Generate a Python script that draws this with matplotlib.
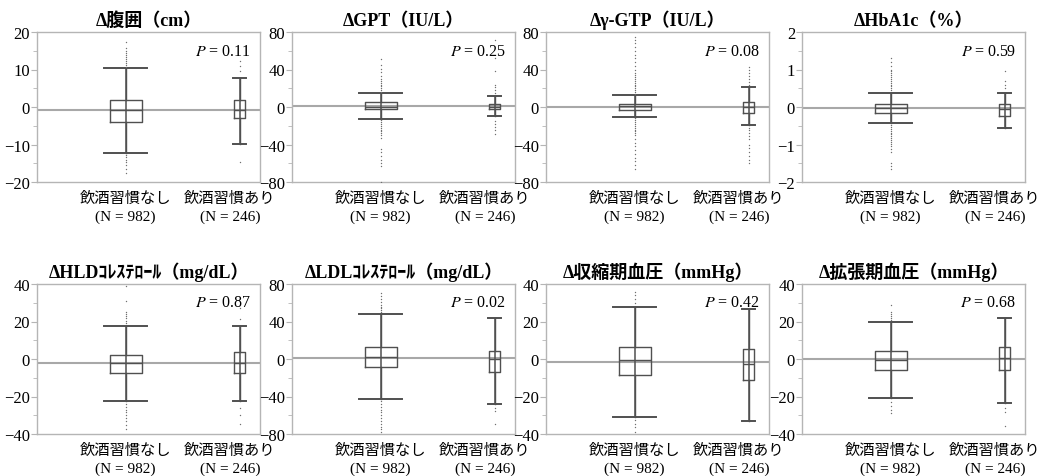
import numpy as np
import matplotlib
matplotlib.use("Agg")
import matplotlib.pyplot as plt
from matplotlib.ticker import MultipleLocator

plt.rcParams['font.family'] = ['Liberation Serif', 'Noto Sans CJK JP']
plt.rcParams['mathtext.fontset'] = 'stix'

# ---- data ----
titles = ["Δ腹囲（cm）", "ΔGPT（IU/L）", "Δγ-GTP（IU/L）", "ΔHbA1c（%）",
          "ΔHLDｺﾚｽﾃﾛｰﾙ（mg/dL）", "ΔLDLｺﾚｽﾃﾛｰﾙ（mg/dL）", "Δ収縮期血圧（mmHg）", "Δ拡張期血圧（mmHg）"]
p_values = ["0.11", "0.25", "0.08", "0.59", "0.87", "0.02", "0.42", "0.68"]
group_labels = ["飲酒習慣なし\n(N = 982)", "飲酒習慣あり\n(N = 246)"]
ylims = [20, 80, 80, 2, 40, 80, 40, 40]
major_step = [10, 40, 40, 1, 20, 40, 20, 20]
minor_step = [5, 20, 20, 0.5, 10, 20, 10, 10]
ref_line = [-0.9, 1.5, 0.0, -0.035, -2.3, 0.7, -1.4, 0.0]

# group 1 (no drinking habit)
g1_lo = [-12.2, -12.6, -10.8, -0.43, -22.6, -43.0, -30.7, -21.0]
g1_q1 = [-3.9, -2.5, -2.9, -0.15, -7.6, -9.0, -8.6, -5.9]
g1_med = [-0.9, 0.5, 0.7, -0.02, -2.3, 2.5, -0.5, -0.5]
g1_q3 = [2.0, 5.0, 3.6, 0.07, 2.3, 13.3, 6.3, 4.3]
g1_hi = [10.3, 15.0, 12.6, 0.38, 17.4, 48.0, 27.5, 19.5]
# group 2 (drinking habit)
g2_lo = [-9.8, -10.0, -19.0, -0.55, -22.6, -48.0, -32.8, -23.6]
g2_q1 = [-2.9, -2.5, -6.5, -0.24, -7.6, -14.3, -11.0, -5.9]
g2_med = [-0.9, 0.5, 0.0, -0.06, -2.3, 0.0, -2.5, 0.4]
g2_q3 = [2.0, 3.0, 5.0, 0.07, 3.6, 9.0, 5.4, 6.3]
g2_hi = [7.8, 12.0, 21.0, 0.38, 17.4, 44.0, 26.8, 21.8]

g1_fliers = [
    [10.8, 11.3, 11.8, 12.3, 12.8, 13.3, 13.8, 14.4, 15.0, 15.8, 17.3,
     -12.8, -13.4, -14.0, -14.7, -15.5, -16.5, -17.5],
    [16, 18, 20, 22, 24, 26, 28, 30, 33, 37, 41, 45, 51,
     -14, -16, -18, -20, -22, -24, -26, -28, -30, -33, -45, -48, -52, -56, -60, -63, -80],
    [14, 16, 18, 20, 22, 24, 26, 28, 30, 32, 34, 36, 40, 44, 48, 52, 56, 60, 64, 68, 72, 74.6,
     -12, -14, -16, -18, -20, -22, -24, -26, -28, -30, -34, -38, -42, -46, -50, -54, -58, -62, -66],
    [0.45, 0.5, 0.55, 0.6, 0.65, 0.7, 0.75, 0.8, 0.85, 0.9, 0.95, 1.0, 1.1, 1.2, 1.3,
     -0.48, -0.53, -0.58, -0.63, -0.68, -0.73, -0.78, -0.83, -0.88, -0.93, -0.98,
     -1.05, -1.12, -1.2, -1.5, -1.57, -1.66],
    [19, 20.5, 22, 23, 24, 25, 31, 39, -24, -25.5, -27, -28.5, -30, -31.5, -33, -35, -37.3],
    [50, 52, 54, 56, 58, 61, 64, 67, 70,
     -45, -48, -51, -54, -57, -60, -63, -66, -69, -72, -75, -78],
    [30, 32, 34, 36, -32.5, -34.5, -36.5, -38.9],
    [21, 22, 23, 24, 25, 29, -23, -25, -27, -28.7],
]
g2_fliers = [
    [9.5, 11.0, 12.4, -14.6],
    [15, 18, 21, 24, 38, 52, 72, -15, -18, -21, -25, -29],
    [24, 27, 30, 33, 36, 40, 43, -22, -25, -28, -31, -34, -40, -44, -48, -52, -56, -60],
    [0.5, 0.58, 0.69, 0.96],
    [21.3, 27, -26, -30, -34.7],
    [-52, -55, -69],
    [],
    [-26, -28, -35.7],
]

# ---- drawing ----
fig = plt.figure(figsize=(10.39, 4.77), dpi=100)
W, H = 1039, 477
lefts = [37, 292, 546, 802]
tops = [33, 285]
aw, ah = 223, 150

box_col = "#505050"
frame_col = "#b5b5b5"
label_dx = [0, -7]   # points; the right-hand label sits a bit left of its box

for i in range(8):
    r, c = divmod(i, 4)
    ax = fig.add_axes([lefts[c] / W, 1 - (tops[r] + ah) / H, aw / W, ah / H])

    stats = [
        dict(whislo=g1_lo[i], q1=g1_q1[i], med=g1_med[i], q3=g1_q3[i], whishi=g1_hi[i], fliers=g1_fliers[i]),
        dict(whislo=g2_lo[i], q1=g2_q1[i], med=g2_med[i], q3=g2_q3[i], whishi=g2_hi[i], fliers=g2_fliers[i]),
    ]
    ax.axhline(ref_line[i], color="#a8a8a8", lw=1.5, zorder=1)
    ax.bxp(stats, positions=[1, 2], widths=[0.28, 0.09], capwidths=[0.38, 0.12],
           boxprops=dict(color=box_col, lw=1.0),
           medianprops=dict(color=box_col, lw=1.0),
           whiskerprops=dict(color=box_col, lw=1.0),
           capprops=dict(color=box_col, lw=1.4),
           flierprops=dict(marker='.', markersize=2.0, markerfacecolor="#707070",
                           markeredgecolor="none", linestyle='none'),
           zorder=3)
    # line running through the box (data strip)
    ax.vlines([1, 2], [g1_lo[i], g2_lo[i]], [g1_hi[i], g2_hi[i]], color=box_col, lw=1.1, zorder=3)

    ax.set_xlim(0.22, 2.18)
    ax.set_ylim(-ylims[i], ylims[i])
    ax.yaxis.set_major_locator(MultipleLocator(major_step[i]))
    ax.yaxis.set_minor_locator(MultipleLocator(minor_step[i]))
    ax.set_xticks([])
    for k, lab in enumerate(group_labels):
        ax.annotate(lab, xy=(k + 1, 0), xycoords=('data', 'axes fraction'),
                    xytext=(label_dx[k], -6.5), textcoords='offset points',
                    ha='center', va='top', fontsize=11, linespacing=1.4,
                    annotation_clip=False)
    ax.tick_params(axis='y', which='major', length=4, color=frame_col, labelsize=12, pad=1)
    ax.tick_params(axis='y', which='minor', length=3, color=frame_col)
    for s in ax.spines.values():
        s.set_color(frame_col)
        s.set_linewidth(1.0)

    ax.set_title(titles[i], fontsize=13, fontweight='bold', pad=5)
    ax.text(0.96, 0.93, "$P$ = " + p_values[i], transform=ax.transAxes,
            ha='right', va='top', fontsize=11.5)

fig.savefig("out.png", dpi=100)
